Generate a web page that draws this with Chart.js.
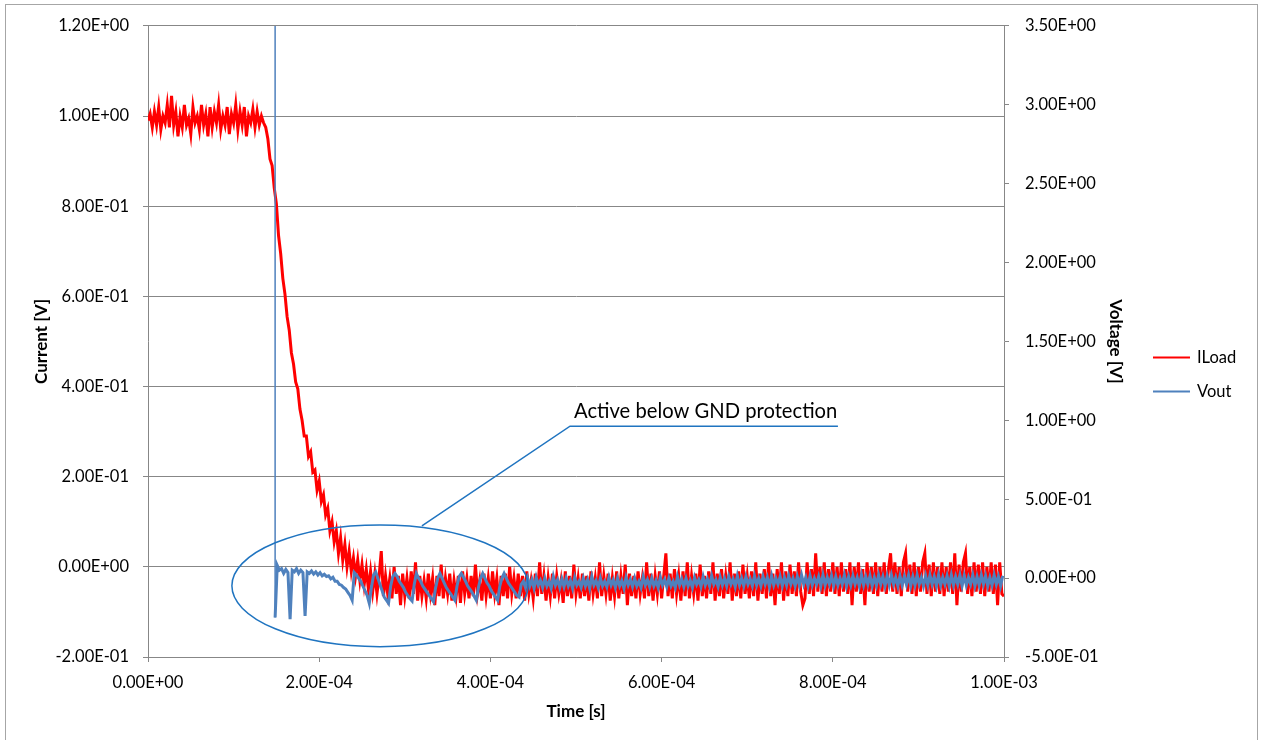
<!DOCTYPE html>
<html>
<head>
<meta charset="utf-8">
<script src="https://cdn.jsdelivr.net/npm/chart.js@4.4.1/dist/chart.umd.min.js"></script>
<style>
  html, body { margin: 0; padding: 0; background: #ffffff; }
  #wrap { position: relative; width: 1262px; height: 740px; }
</style>
</head>
<body>
<div id="wrap"><canvas id="chart" width="1262" height="740"></canvas></div>
<script>
// Sampling interval of the recorded traces [s]
const sampleStep = 2.5e-6;

// Load current, sampled from t = 0 [left axis]
const iloadStart = 0;
const iload = [
  0.99, 1.005, 0.975, 1.01, 0.98, 1.02, 0.97, 1.0, 0.985, 1.025,
  0.975, 1.045, 0.98, 1.01, 0.955, 1.0, 0.975, 1.025, 0.98, 0.995,
  0.96, 1.02, 0.985, 1.0, 0.97, 1.025, 0.98, 1.005, 0.955, 1.02,
  0.975, 1.01, 0.985, 1.025, 0.97, 1.0, 0.98, 1.02, 0.96, 1.005,
  0.985, 1.025, 0.97, 1.01, 0.98, 1.02, 0.955, 1.0, 0.985, 1.015,
  0.975, 1.01, 0.98, 1.0, 0.985,
  0.975, 0.95, 0.905, 0.89, 0.84, 0.805, 0.735, 0.695, 0.64, 0.605,
  0.555, 0.525, 0.475, 0.45, 0.41, 0.395, 0.35, 0.325, 0.29, 0.29,
  0.245, 0.255, 0.21, 0.215, 0.17, 0.19, 0.145, 0.16, 0.115, 0.13,
  0.08, 0.10, 0.055, 0.08, 0.03, 0.065, 0.015, 0.05, 0.0, 0.035,
  -0.01, 0.02, -0.02, 0.015, -0.03,
  0.005, -0.04, -0.005, -0.05, -0.01, -0.055, -0.015, -0.06, -0.02, 0.035,
  -0.065, -0.02, -0.06, -0.025, -0.07, 0.0, -0.06, -0.02, -0.085, -0.015,
  -0.065, -0.025, -0.07, -0.01, -0.06, 0.01, -0.075, -0.02, -0.065, -0.03,
  -0.07, -0.015, -0.06, -0.025, -0.085, -0.02, -0.065, 0.005, -0.07, -0.025,
  -0.06, -0.015, -0.075, -0.03, -0.065, -0.02, -0.08, -0.01, -0.06, -0.025,
  -0.07, -0.02, -0.065, 0.005, -0.06, -0.03, -0.075, -0.015, -0.065, -0.025,
  -0.07, -0.01, -0.06, -0.025, -0.085, -0.02, -0.065, -0.015, -0.07, 0.0,
  -0.06, -0.025, -0.07, -0.015, -0.065, -0.02, -0.075, -0.01, -0.06, -0.03,
  -0.07, -0.015, -0.065, 0.01, -0.06, -0.02, -0.075, -0.025, -0.065, -0.015,
  -0.07, -0.02, -0.06, -0.03, -0.08, -0.01, -0.065, -0.02, -0.07, 0.005,
  -0.06, -0.025, -0.07, -0.015, -0.065, -0.02, -0.075, -0.01, -0.06, -0.025,
  -0.07, 0.01, -0.065, -0.02, -0.06, -0.015, -0.075, -0.025, -0.065, -0.01,
  -0.07, -0.02, -0.06, 0.005, -0.085, -0.015, -0.065, -0.02, -0.07, -0.01,
  -0.06, -0.025, -0.07, 0.01, -0.065, -0.015, -0.075, -0.02, -0.06, -0.01,
  -0.07, -0.02, 0.03, -0.065, -0.015, -0.07, -0.005, -0.06, -0.02, -0.075,
  -0.01, -0.065, 0.01, -0.07, -0.02, -0.06, -0.015, -0.075, 0.005, -0.065,
  -0.02, -0.07, -0.01, -0.06, 0.01, -0.075, -0.015, -0.065, -0.005, -0.07,
  -0.02, -0.06, 0.01, -0.075, -0.015, -0.065, -0.01, -0.07, 0.005, -0.06,
  -0.02, -0.07, -0.01, -0.065, 0.01, -0.075, -0.015, -0.06, -0.005, -0.07,
  0.01, -0.065, -0.015, -0.085, -0.005, -0.06, 0.01, -0.075, -0.01, -0.065,
  0.005, -0.06, -0.01, -0.065, 0.01, -0.055, -0.085, -0.07, 0.01, -0.06,
  -0.005, -0.065, 0.03, -0.055, 0.0, -0.06, 0.01, -0.065, -0.005, -0.055,
  0.01, -0.06, 0.0, -0.065, 0.01, -0.055, -0.005, -0.06, 0.01, -0.085,
  0.0, -0.055, 0.01, -0.06, -0.005, -0.085, 0.01, -0.055, 0.0, -0.06,
  0.01, -0.065, 0.0, -0.055, 0.01, -0.06, -0.005, 0.03, -0.055, 0.01,
  -0.06, 0.0, -0.065, 0.01, 0.03, -0.055, 0.005, -0.06, 0.01, -0.065,
  0.0, -0.055, 0.01, 0.03, -0.06, 0.005, -0.065, 0.01, -0.055, 0.0,
  -0.06, 0.01, -0.065, 0.0, -0.055, 0.01, -0.06, 0.03, -0.085, 0.005,
  -0.055, 0.01, 0.03, -0.06, 0.0, -0.065, 0.01, -0.055, 0.005, -0.06,
  0.01, -0.065, 0.0, -0.055, 0.01, -0.06, 0.005, -0.085, 0.01, -0.06,
  -0.065
];

// Output voltage [right axis]; before the switch-off it sits above the axis range
const voutHold = 4.0;
const voutStart = 1.485e-4;
const vout = [
  -0.25, 0.08, 0.05, 0.06, 0.03, 0.055, 0.035, -0.26, 0.05, 0.04,
  0.06, 0.03, 0.05, 0.035, -0.24, 0.04, 0.03, 0.045, 0.025, 0.04,
  0.02, 0.035, 0.015, 0.025, 0.01, 0.015, -0.005, 0.005, -0.02, -0.02,
  -0.04, -0.045, -0.06, -0.07, -0.09, -0.11, -0.14, 0.035, 0.02, 0.0,
  -0.02, -0.05, -0.08, -0.11, -0.16, -0.06, 0.02, 0.04, 0.0, -0.04,
  -0.08, -0.12, -0.14, -0.16, -0.05, 0.01, 0.03, 0.01, -0.02, -0.04,
  -0.06, -0.09, -0.11, -0.13, -0.145, -0.04, 0.03, 0.0, -0.02, -0.05,
  -0.07, -0.09, -0.11, -0.13, -0.15, -0.06, 0.0, 0.03, 0.0, -0.03,
  -0.06, -0.08, -0.10, -0.12, -0.14, -0.05, 0.01, 0.03, 0.005, -0.02,
  -0.05, -0.07, -0.09, -0.115, -0.14, -0.06, 0.0, 0.03, 0.0, -0.03,
  -0.05, -0.08, -0.10, -0.12, -0.14, -0.05, 0.0, 0.03, 0.0, -0.03,
  -0.05, -0.07, -0.09, -0.11, -0.12, -0.04, -0.02,
  -0.06, 0.0, -0.05, -0.01, -0.065, 0.005, -0.045, -0.015, -0.06, 0.0,
  -0.05, -0.02, -0.065, 0.01, -0.045, -0.01, -0.06, -0.005, -0.055, 0.0,
  -0.05, -0.015, -0.065, 0.005, -0.045, -0.02, -0.06, 0.0, -0.05, -0.01,
  -0.065, 0.01, -0.045, -0.015, -0.06, 0.0, -0.05, -0.02, -0.055, 0.005,
  -0.045, -0.01, -0.06, 0.0, -0.05, -0.015, -0.065, 0.005, -0.045, -0.01,
  -0.055, 0.0, -0.05, -0.02, -0.06, 0.01, -0.045, -0.01, -0.055, 0.0,
  -0.05, -0.015, -0.06, 0.005, -0.045, -0.01, -0.055, 0.0, -0.05, -0.02,
  -0.06, 0.01, -0.045, -0.005, -0.055, 0.0, -0.05, -0.015, -0.06, 0.005,
  -0.04, -0.01, -0.055, 0.01, -0.045, -0.005, -0.05, 0.015, -0.04, -0.01,
  -0.055, 0.005, -0.045, 0.0, -0.05, 0.01, -0.04, -0.005, -0.055, 0.015,
  -0.045, 0.0, -0.05, 0.01, -0.04, -0.005, -0.05, 0.015, -0.045, 0.0,
  -0.05, 0.01, -0.04, 0.005, -0.055, 0.015, -0.045, 0.0, -0.04, 0.01,
  -0.05, 0.005, -0.045, 0.015, -0.04, 0.0, -0.05, 0.01, -0.045, 0.02,
  -0.04, 0.005, -0.05, 0.015, -0.045, 0.0, -0.04, 0.01, -0.05, 0.02,
  -0.045, 0.005, -0.04, 0.015, -0.05, 0.01, -0.045, 0.0, -0.04, 0.02,
  -0.05, 0.01, -0.045, 0.015, -0.04, 0.005, -0.05, 0.02, -0.045, 0.01,
  -0.04, 0.015, -0.05, 0.005, -0.045, 0.02, -0.04, 0.01, -0.05, 0.015,
  -0.045, 0.02, -0.04, 0.005, -0.05, 0.015, -0.045, 0.01, -0.04, 0.02,
  -0.05, 0.01, -0.045, 0.02, -0.04, 0.005, -0.05, 0.015, -0.045, 0.02,
  -0.04, 0.01, -0.05, 0.02, -0.045, 0.005, -0.04, 0.015, -0.05, 0.02,
  -0.045, 0.01, -0.04, 0.02, -0.05, 0.015, -0.045, 0.005, -0.04, 0.02,
  -0.05, 0.01, -0.045, 0.02, -0.04, 0.015, -0.05, 0.005, -0.045, 0.02,
  -0.04, 0.01, -0.05, 0.015
];

// Axis ticks
const timeTicks = [0, 2e-4, 4e-4, 6e-4, 8e-4, 1e-3];
const currentTicks = [-0.2, 0, 0.2, 0.4, 0.6, 0.8, 1.0, 1.2];
const voltageTicks = [-0.5, 0, 0.5, 1.0, 1.5, 2.0, 2.5, 3.0, 3.5];

// Callout: ellipse (time / current units) and its leader line
const calloutText = 'Active below GND protection';
const calloutEllipse = { t: 2.71e-4, i: -0.042, rt: 1.73e-4, ri: 0.135 };
const calloutLeader = [[3.20e-4, 0.091], [4.93e-4, 0.312], [8.06e-4, 0.312]];

const FONT = 'Lato, "Open Sans", sans-serif';
const GRID = '#878787';
const TICK_SIZE = 16.5;
const TITLE_SIZE = 17;

function sci(v) {
  if (Math.abs(v) < 1e-12) v = 0;
  const parts = v.toExponential(2).split('e');
  const n = parseInt(parts[1], 10);
  return parts[0] + 'E' + (n < 0 ? '-' : '+') + String(Math.abs(n)).padStart(2, '0');
}

const iloadPoints = iload.map((v, k) => ({ x: iloadStart + k * sampleStep, y: v }));
const voutPoints = [{ x: 0, y: voutHold }, { x: voutStart, y: voutHold }]
  .concat(vout.map((v, k) => ({ x: voutStart + k * sampleStep, y: v })));

const pagePlugin = {
  id: 'page',
  beforeDraw(chart) {
    const ctx = chart.ctx;
    ctx.save();
    ctx.fillStyle = '#ffffff';
    ctx.fillRect(0, 0, chart.width, chart.height);
    ctx.restore();
  },
  afterDraw(chart) {
    const ctx = chart.ctx;
    const xs = chart.scales.x, ys = chart.scales.y;
    ctx.save();
    // outer frame
    ctx.strokeStyle = '#a6a6a6';
    ctx.lineWidth = 1;
    ctx.strokeRect(5.5, 4.5, 1252, 740);

    // callout ellipse + leader
    ctx.strokeStyle = '#1f74c0';
    ctx.lineWidth = 1.5;
    const cx = xs.getPixelForValue(calloutEllipse.t);
    const cy = ys.getPixelForValue(calloutEllipse.i);
    const rx = xs.getPixelForValue(calloutEllipse.t + calloutEllipse.rt) - cx;
    const ry = cy - ys.getPixelForValue(calloutEllipse.i + calloutEllipse.ri);
    ctx.beginPath();
    ctx.ellipse(cx, cy, rx, ry, 0, 0, Math.PI * 2);
    ctx.stroke();
    ctx.beginPath();
    calloutLeader.forEach((p, k) => {
      const px = xs.getPixelForValue(p[0]), py = ys.getPixelForValue(p[1]);
      if (k === 0) ctx.moveTo(px, py); else ctx.lineTo(px, py);
    });
    ctx.stroke();
    const tx = xs.getPixelForValue(calloutLeader[1][0]) + 4;
    const ty = ys.getPixelForValue(calloutLeader[1][1]) - 8;
    ctx.fillStyle = '#000000';
    ctx.font = '20.2px ' + FONT;
    ctx.textAlign = 'left';
    ctx.textBaseline = 'alphabetic';
    ctx.fillText(calloutText, tx, ty);

    // legend
    const lx = 1153, ly = 357, gap = 34;
    chart.data.datasets.forEach((ds, k) => {
      const y = ly + k * gap;
      ctx.strokeStyle = ds.borderColor;
      ctx.lineWidth = 2;
      ctx.beginPath();
      ctx.moveTo(lx, y + 0.5);
      ctx.lineTo(lx + 37, y + 0.5);
      ctx.stroke();
      ctx.fillStyle = '#000000';
      ctx.font = TICK_SIZE + 'px ' + FONT;
      ctx.textBaseline = 'middle';
      ctx.fillText(ds.label, lx + 44, y + 1);
    });
    ctx.restore();
  }
};

function draw() {
  new Chart(document.getElementById('chart'), {
    type: 'line',
    data: {
      datasets: [
        { label: 'ILoad', data: iloadPoints, yAxisID: 'y', borderColor: '#ff0000',
          borderWidth: 3, pointRadius: 0, tension: 0, order: 2, borderJoinStyle: 'miter' },
        { label: 'Vout', data: voutPoints, yAxisID: 'y1', borderColor: '#4f81bd',
          borderWidth: 3, pointRadius: 0, tension: 0, order: 1,
          // the switch-off edge is a single fast transition: draw it thin
          segment: { borderWidth: c => (c.p0.parsed.y > 3.5 ? 1.5 : 3) } }
      ]
    },
    options: {
      responsive: false,
      devicePixelRatio: 1,
      animation: false,
      events: [],
      layout: { padding: { left: 0, top: 25, right: 128, bottom: 10 } },
      plugins: { legend: { display: false }, tooltip: { enabled: false } },
      scales: {
        x: {
          type: 'linear', position: 'bottom', min: 0, max: 1e-3,
          afterBuildTicks: s => { s.ticks = timeTicks.map(v => ({ value: v })); },
          afterFit: s => { s.height = 73; },
          ticks: { callback: v => sci(v), font: { family: FONT, size: TICK_SIZE }, color: '#000',
                   padding: 11, maxRotation: 0, autoSkip: false },
          grid: { drawOnChartArea: false, drawTicks: true, tickLength: 5, color: GRID },
          border: { color: GRID, width: 1 },
          title: { display: true, text: 'Time [s]', color: '#000',
                   font: { family: FONT, size: TITLE_SIZE, weight: 'bold' }, padding: { top: 0, bottom: 7.8 } }
        },
        y: {
          type: 'linear', position: 'left', min: -0.2, max: 1.2,
          afterBuildTicks: s => { s.ticks = currentTicks.map(v => ({ value: v })); },
          afterFit: s => { s.width = 148; },
          ticks: { callback: v => sci(v), font: { family: FONT, size: TICK_SIZE }, color: '#000', padding: 14 },
          grid: { color: GRID, lineWidth: 1, drawTicks: true, tickLength: 5 },
          border: { color: GRID, width: 1 },
          title: { display: true, text: 'Current [V]', color: '#000',
                   font: { family: FONT, size: TITLE_SIZE, weight: 'bold' }, padding: { top: 31.8, bottom: 0 } }
        },
        y1: {
          type: 'linear', position: 'right', min: -0.5, max: 3.5,
          afterBuildTicks: s => { s.ticks = voltageTicks.map(v => ({ value: v })); },
          afterFit: s => { s.width = 130; },
          ticks: { callback: v => sci(v), font: { family: FONT, size: TICK_SIZE }, color: '#000', padding: 16 },
          grid: { drawOnChartArea: false, drawTicks: true, tickLength: 5, color: GRID },
          border: { color: GRID, width: 1 },
          title: { display: true, text: 'Voltage [V]', color: '#000',
                   font: { family: FONT, size: TITLE_SIZE, weight: 'bold' }, padding: { top: 8.8, bottom: 0 } }
        }
      }
    },
    plugins: [pagePlugin]
  });
}

if (document.fonts && document.fonts.load) {
  Promise.all([document.fonts.load('16px Lato'), document.fonts.load('bold 16px Lato')])
    .then(draw, draw);
} else {
  draw();
}
</script>
</body>
</html>
